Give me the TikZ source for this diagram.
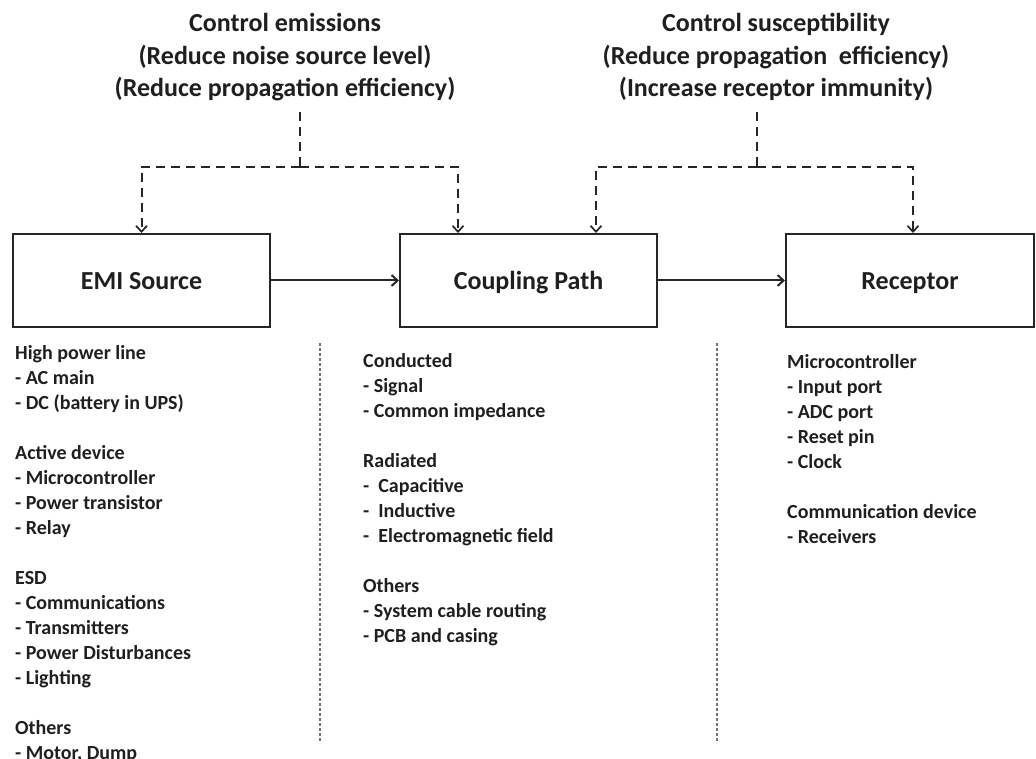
\documentclass[tikz,border=0pt]{standalone}
\usepackage{fontspec}
\setmainfont{Carlito}
\usetikzlibrary{arrows.meta}
\begin{document}
\begin{tikzpicture}[x=1pt,y=-1pt,
  txt/.style={text=black!88, font=\bfseries\fontsize{26}{32.5}\selectfont, inner sep=0pt},
  listtxt/.style={text=black!88, font=\bfseries\fontsize{20}{25}\selectfont, inner sep=0pt, align=left, anchor=base west},
  blockbox/.style={draw=black!85, line width=2pt, minimum width=257pt, minimum height=93pt, inner sep=0pt, text height=22pt, text depth=3pt, text=black!88, font=\bfseries\fontsize{26}{32.5}\selectfont},
  flow/.style={draw=black!85, line width=2pt, -{Straight Barb[length=6pt,width=11pt,line width=2pt]}},
  ctrl/.style={draw=black!85, line width=2pt, dash pattern=on 9pt off 6pt},
  ctrlarrow/.style={ctrl, -{Straight Barb[length=6pt,width=11pt,line width=1.7pt]}},
  sep/.style={draw=black!55, line width=1.6pt, dash pattern=on 2.5pt off 2.5pt}
]
\useasboundingbox (0,0) rectangle (1036,759);
% titles (anchor base = baseline of last line)
\node[txt, align=center, anchor=base] (t1) at (285,97) {Control emissions\\(Reduce noise source level)\\(Reduce propagation efficiency)};
\node[txt, align=center, anchor=base] (t2) at (776,97) {Control susceptibility\\(Reduce propagation~ efficiency)\\(Increase receptor immunity)};
% blocks
\node[blockbox] (emi) at (141.5,280.5) {EMI Source};
\node[blockbox] (cp) at (528.5,280.5) {Coupling Path};
\node[blockbox, minimum width=248pt] (rec) at (910,280.5) {Receptor};
\draw[flow] (emi.east) -- (cp.west);
\draw[flow] (cp.east) -- (rec.west);
% control connectors
\coordinate (d1) at (300,112);
\coordinate (j1) at (300,167);
\coordinate (d2) at (757,112);
\coordinate (j2) at (757,167);
\draw[ctrl] (d1) -- (j1);
\draw[ctrlarrow] (j1) -| (emi.north);
\draw[ctrlarrow] (j1) -| ([xshift=59pt]cp.north west);
\draw[ctrl] (d2) -- (j2);
\draw[ctrlarrow] (j2) -| ([xshift=197pt]cp.north west);
\draw[ctrlarrow] (j2) -| ([xshift=128pt]rec.north west);
% separators
\coordinate (s1a) at (320,343);
\coordinate (s1b) at (320,743);
\coordinate (s2a) at (717,343);
\coordinate (s2b) at (717,743);
\draw[sep] (s1a) -- (s1b);
\draw[sep] (s2a) -- (s2b);
% lists (anchor base = baseline of last line)
\node[listtxt] (l1) at (15,759) {High power line\\- AC main\\- DC (battery in UPS)\\[25pt]Active device\\- Microcontroller\\- Power transistor\\- Relay\\[25pt]ESD\\- Communications\\- Transmitters\\- Power Disturbances\\- Lighting\\[25pt]Others\\- Motor, Dump};
\node[listtxt] (l2) at (363,642) {Conducted\\- Signal\\- Common impedance\\[25pt]Radiated\\-~ Capacitive\\-~ Inductive\\-~ Electromagnetic field\\[25pt]Others\\- System cable routing\\- PCB and casing};
\node[listtxt] (l3) at (787,543) {Microcontroller\\- Input port\\- ADC port\\- Reset pin\\- Clock\\[25pt]Communication device\\- Receivers};
\end{tikzpicture}
\end{document}
